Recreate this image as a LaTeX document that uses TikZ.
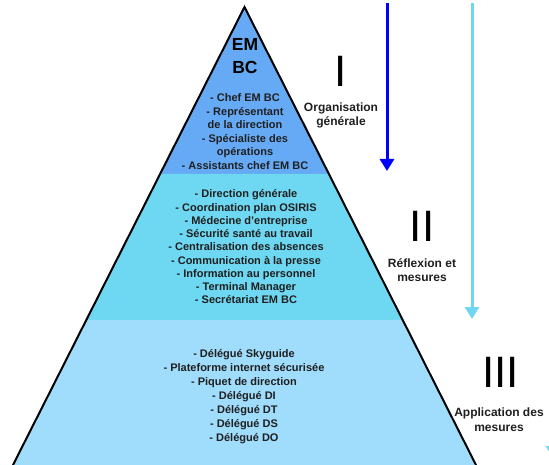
\documentclass[tikz,border=0pt]{standalone}
\usepackage{fontspec}
\setmainfont{Liberation Sans}
\usetikzlibrary{arrows.meta,calc}
\definecolor{bandA}{HTML}{66AAF5}
\definecolor{bandB}{HTML}{6ED8F2}
\definecolor{bandC}{HTML}{A0DDFC}
\definecolor{arrowB}{HTML}{0000FF}
\definecolor{arrowL}{HTML}{6ED8F2}
\begin{document}
\begin{tikzpicture}[x=1pt,y=-1pt,
  listtext/.style={font=\fontsize{11}{13.6}\selectfont\bfseries, align=center, inner sep=0pt, text=black!88},
  sidelabel/.style={font=\fontsize{12}{14.5}\selectfont\bfseries, align=center, inner sep=0pt, text=black!88},
  numeral/.style={font=\fontsize{44}{44}\selectfont, inner sep=0pt},
  phasearrow/.style={line width=3pt, -{Triangle[length=12pt,width=14pt]}},
  edge/.style={line width=2pt, black, line cap=round}]
\useasboundingbox (0,0) rectangle (549,465);
\coordinate (apex) at (244.5,7);
\coordinate (bl) at (13,465);
\coordinate (br) at (476,465);
\coordinate (l1) at ($(apex)!0.3646!(bl)$);
\coordinate (r1) at ($(apex)!0.3646!(br)$);
\coordinate (l2) at ($(apex)!0.6834!(bl)$);
\coordinate (r2) at ($(apex)!0.6834!(br)$);
% bands
\fill[bandA] (apex) -- (r1) -- (l1) -- cycle;
\fill[bandB] (l1) -- (r1) -- (r2) -- (l2) -- cycle;
\fill[bandC] (l2) -- (r2) -- (br) -- (bl) -- cycle;
\draw[edge] (bl) -- (apex) -- (br);
% texts in pyramid
\node[font=\fontsize{17.5}{23}\selectfont\bfseries, align=center, inner sep=0pt] (embc) at (245,56.5) {EM\\BC};
\node[listtext] (top) at (245,131.5) {- Chef EM BC\\- Représentant\\de la direction\\- Spécialiste des\\opérations\\- Assistants chef EM BC};
\node[listtext, font=\fontsize{11}{13.25}\selectfont\bfseries] (mid) at (246,247) {- Direction générale\\- Coordination plan OSIRIS\\- Médecine d{\char"27}entreprise\\- Sécurité santé au travail\\- Centralisation des absences\\- Communication à la presse\\- Information au personnel\\- Terminal Manager\\- Secrétariat EM BC};
\node[listtext, font=\fontsize{11}{14}\selectfont\bfseries] (bot) at (244,397) {- Délégué Skyguide\\- Plateforme internet sécurisée\\- Piquet de direction\\- Délégué DI\\- Délégué DT\\- Délégué DS\\- Délégué DO};
% side labels
\node[numeral] (n1) at (341,71) {I};
\node[sidelabel] (s1) at (341,115.5) {Organisation\\générale};
\node[numeral] (n2) at (422,226) {II};
\node[sidelabel, font=\fontsize{12}{14}\selectfont\bfseries] (s2) at (422,270) {Réflexion et\\mesures};
\node[numeral] (n3) at (500.5,372) {III};
\node[sidelabel] (s3) at (499,419.5) {Application des\\mesures};
% arrows
\coordinate (a1s) at (387,3);
\coordinate (a1e) at (387,171);
\coordinate (a2s) at (472,3);
\coordinate (a2e) at (472,319);
\draw[phasearrow, arrowB] (a1s) -- (a1e);
\draw[phasearrow, arrowL] (a2s) -- (a2e);
\begin{scope}
\clip (0,0) rectangle (549,465);
\coordinate (a3s) at (553,330);
\coordinate (a3e) at (553,458);
\draw[phasearrow, arrowL] (a3s) -- (a3e);
\end{scope}
\end{tikzpicture}
\end{document}
